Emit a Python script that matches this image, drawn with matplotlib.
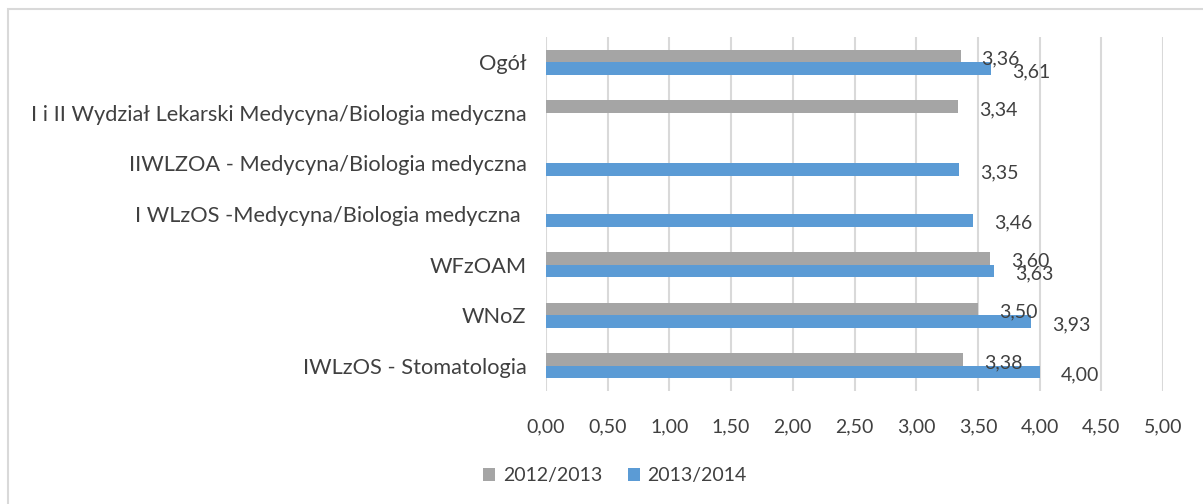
import numpy as np
import matplotlib
matplotlib.use("Agg")
import matplotlib.pyplot as plt
from matplotlib.patches import Rectangle

# Dane
kategorie = ["Ogół",
             "I i II Wydział Lekarski Medycyna/Biologia medyczna",
             "IIWLZOA - Medycyna/Biologia medyczna",
             "I WLzOS -Medycyna/Biologia medyczna ",
             "WFzOAM",
             "WNoZ",
             "IWLzOS - Stomatologia"]
rok_2012 = [3.36, 3.34, None, None, 3.60, 3.50, 3.38]
rok_2013 = [3.61, None, 3.35, 3.46, 3.63, 3.93, 4.00]
serie = ["2012/2013", "2013/2014"]
kolory = ["#A5A5A5", "#5B9BD5"]
xticki = [0, 0.5, 1, 1.5, 2, 2.5, 3, 3.5, 4, 4.5, 5]

plt.rcParams['font.family'] = ['Lato', 'DejaVu Sans']
tekst = "#404040"

W, H = 1203, 504
fig = plt.figure(figsize=(W / 100, H / 100), dpi=100)
ax = fig.add_axes([546 / W, 1 - 391 / H, (1163 - 546) / W, (391 - 37) / H])

y = np.arange(len(kategorie))
h = 0.25
for k, (dane, przes) in enumerate([(rok_2012, -h / 2), (rok_2013, h / 2)]):
    idx = [i for i, v in enumerate(dane) if v is not None]
    wart = [dane[i] for i in idx]
    ax.barh(y[idx] + przes, wart, height=h, color=kolory[k], label=serie[k], zorder=3)
    for i, v in zip(idx, wart):
        ax.annotate(f"{v:.2f}".replace(".", ","), xy=(v, y[i] + przes),
                    xytext=(21, -3), textcoords="offset pixels",
                    ha="left", va="center", fontsize=14, color=tekst, zorder=4)

ax.set_xlim(0, 5)
ax.set_ylim(len(kategorie) - 0.5, -0.5)
ax.set_xticks(xticki)
ax.set_xticklabels([f"{t:.2f}".replace(".", ",") for t in xticki])
ax.set_yticks(y)
ax.set_yticklabels(kategorie)
ax.tick_params(axis="both", length=0, labelsize=14, colors=tekst)
ax.tick_params(axis="y", pad=14, labelsize=15.7)
ax.tick_params(axis="x", pad=20)
ax.grid(axis="x", color="#D9D9D9", linewidth=1.5, zorder=0)
for s in ax.spines.values():
    s.set_visible(False)

fig.legend(loc="center", bbox_to_anchor=(615 / W, 1 - 476 / H), ncol=2,
           frameon=False, handlelength=0.62, handleheight=0.62, handletextpad=0.4,
           columnspacing=1.3, fontsize=14, labelcolor=tekst)

fig.patches.append(Rectangle((7.5 / W, -0.05), (W + 10 - 7.5) / W, 1.05 - 8.5 / H,
                             transform=fig.transFigure, fill=False,
                             edgecolor="#D9D9D9", linewidth=1.5))

fig.savefig("out.png", dpi=100, facecolor="white")
